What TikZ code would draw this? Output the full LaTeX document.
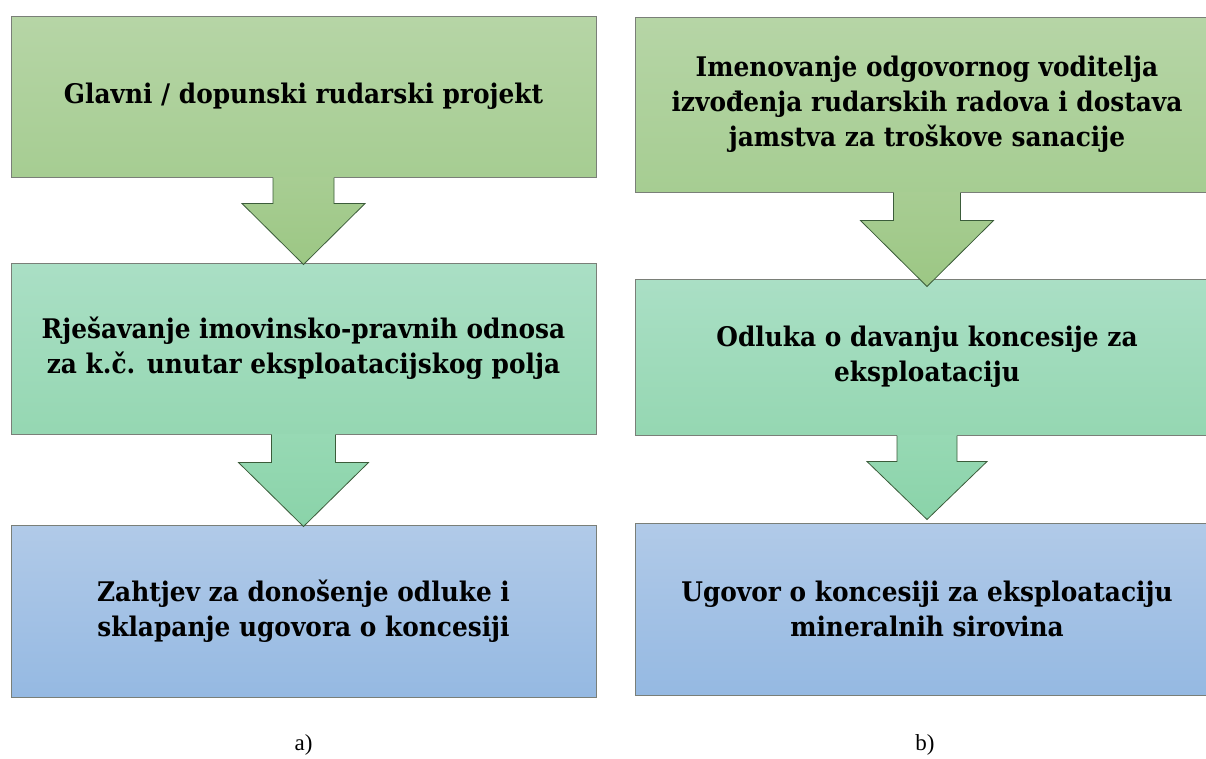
\documentclass[tikz,border=0pt]{standalone}
\usepackage{fontspec}
\setmainfont{Liberation Serif}
\newfontfamily\boxfont{DejaVu Serif}[FakeStretch=0.92]
\usetikzlibrary{calc}

\definecolor{greentop}{HTML}{B6D5A6}
\definecolor{greenbot}{HTML}{A6CD92}
\definecolor{mintop}{HTML}{AADFC5}
\definecolor{minbot}{HTML}{95D7B2}
\definecolor{bluetop}{HTML}{B1CAE8}
\definecolor{bluebot}{HTML}{95B9E2}
\definecolor{edgegray}{HTML}{7A7F78}

\tikzset{
  stepbox/.style={rectangle, draw=edgegray, line width=1pt,
    font=\boxfont\bfseries\fontsize{27}{35}\selectfont, align=center, inner sep=0pt},
  greenbox/.style={stepbox, top color=greentop, bottom color=greenbot},
  mintbox/.style={stepbox, top color=mintop, bottom color=minbot},
  bluebox/.style={stepbox, top color=bluetop, bottom color=bluebot},
  arrowline/.style={draw=edgegray!80!green!60!black, line width=0.8pt, line join=miter},
  caption/.style={font=\fontsize{23}{28}\selectfont}
}

\begin{document}
\begin{tikzpicture}[x=1pt,y=-1pt]
  \useasboundingbox (0,0) rectangle (1206,758);
  \clip (0,0) rectangle (1206,758);

  % left column a)
  \node[greenbox, minimum width=585pt, minimum height=161pt] (L1) at (303.5,96.5)
    {Glavni / dopunski rudarski projekt};
  \node[mintbox, minimum width=585pt, minimum height=171pt] (L2) at (303.5,348.5)
    {Rješavanje imovinsko-pravnih odnosa\\za k.č. unutar eksploatacijskog polja};
  \node[bluebox, minimum width=585pt, minimum height=172pt] (L3) at (303.5,611)
    {Zahtjev za donošenje odluke i\\sklapanje ugovora o koncesiji};

  % right column b)
  \node[greenbox, minimum width=584pt, minimum height=175pt] (R1) at (927,104.5)
    {Imenovanje odgovornog voditelja\\izvođenja rudarskih radova i dostava\\jamstva za troškove sanacije};
  \node[mintbox, minimum width=584pt, minimum height=156pt] (R2) at (927,357)
    {Odluka o davanju koncesije za\\eksploataciju};
  \node[bluebox, minimum width=584pt, minimum height=172pt] (R3) at (927,609)
    {Ugovor o koncesiji za eksploataciju\\mineralnih sirovina};

  % block arrows: from/to/shaft half/shaft length/head half/tip offset/colours
  \foreach \a/\b/\s/\h/\w/\t/\ct/\cb in {
      L1/L2/30.5/26/61.5/2/A8CD93/9CC784,
      L2/L3/32/28/65/2/97D9B4/8AD3A9,
      R1/R2/33.5/28/66.5/8/A8CD93/9CC784,
      R2/R3/30/26/60/-3/97D9B4/8AD3A9}{
    \definecolor{arrtop}{HTML}{\ct}
    \definecolor{arrbot}{HTML}{\cb}
    \shade[top color=arrtop, bottom color=arrbot]
      ($(\a.south)+(-\s,-1)$) -- ($(\a.south)+(-\s,\h)$) -- ($(\a.south)+(-\w,\h)$)
      -- ($(\b.north)+(0,\t)$) -- ($(\a.south)+(\w,\h)$) -- ($(\a.south)+(\s,\h)$)
      -- ($(\a.south)+(\s,-1)$) -- cycle;
    \draw[arrowline]
      ($(\a.south)+(-\s,0)$) -- ($(\a.south)+(-\s,\h)$) -- ($(\a.south)+(-\w,\h)$)
      -- ($(\b.north)+(0,\t)$) -- ($(\a.south)+(\w,\h)$) -- ($(\a.south)+(\s,\h)$)
      -- ($(\a.south)+(\s,0)$);
  }

  \node[caption] (capA) at (303.5,745) {a)};
  \node[caption] (capB) at (925,745) {b)};
\end{tikzpicture}
\end{document}
